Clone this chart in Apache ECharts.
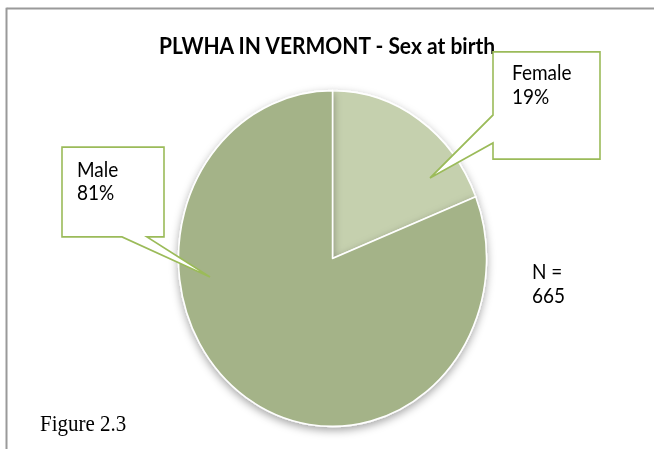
<!DOCTYPE html>
<html>
<head>
<meta charset="utf-8">
<script src="https://cdn.jsdelivr.net/npm/echarts@6/dist/echarts.min.js"></script>
<style>
  html, body { margin: 0; padding: 0; background: #ffffff; overflow: hidden; }
  #wrap { width: 654px; height: 449px; position: relative; overflow: hidden; }
  #chart { width: 654px; height: 412px; position: absolute; left: 0; top: 0;
           transform: scale(1, 1.09); transform-origin: 0 0; }
</style>
</head>
<body>
<div id="wrap"><div id="chart"></div></div>
<script>
// ---- data ----
const chartTitle = 'PLWHA IN VERMONT - Sex at birth';
const categories = ['Female', 'Male'];
const percents = [19, 81];
const sliceColors = ['#c5d0ae', '#a4b388'];
const sampleSize = 665;
const figureCaption = 'Figure 2.3';

// ---- layout (chart space, before vertical stretch) ----
const calloutColor = '#9bbb59';
const labelFont = 'Lato, "Open Sans", sans-serif';

const chart = echarts.init(document.getElementById('chart'), null, { renderer: 'svg' });

const pieData = categories.map((c, i) => ({
  name: c, value: percents[i], itemStyle: { color: sliceColors[i] }
}));

function labelText(i) {
  return categories[i] + '\n' + percents[i] + '%';
}

const option = {
  backgroundColor: 'transparent',
  animation: false,
  title: {
    text: chartTitle,
    left: 'center',
    top: 26,
    textStyle: { fontFamily: labelFont, fontWeight: 'bold', fontSize: 21, color: '#000' }
  },
  series: [{
    type: 'pie',
    center: [332.5, 237.2],
    radius: [0, 154],
    startAngle: 90,
    clockwise: true,
    silent: true,
    label: { show: false },
    labelLine: { show: false },
    itemStyle: {
      borderColor: '#ffffff',
      borderWidth: 1.5,
      shadowBlur: 8,
      shadowColor: 'rgba(0,0,0,0.35)',
      shadowOffsetY: 3
    },
    data: pieData
  }],
  graphic: [
    // frame
    { type: 'line', z: 1, shape: { x1: 6.5, y1: 7.8, x2: 660, y2: 7.8 },
      style: { stroke: '#9a9a9a', lineWidth: 2 } },
    { type: 'line', z: 1, shape: { x1: 6.5, y1: 7, x2: 6.5, y2: 420 },
      style: { stroke: '#9a9a9a', lineWidth: 2 } },
    // Female callout
    { type: 'polygon', z: 100,
      shape: { points: [[493, 47.7], [600, 47.7], [600, 145.9], [493, 145.9], [493, 131.2], [430, 163.3], [493, 105.5]] },
      style: { fill: '#ffffff', stroke: calloutColor, lineWidth: 1.6 } },
    { type: 'text', z: 101, left: 512, top: 55,
      style: { text: labelText(0), font: '19px ' + labelFont, lineHeight: 22, fill: '#000' } },
    // Male callout
    { type: 'polygon', z: 100,
      shape: { points: [[62, 134.9], [164, 134.9], [164, 217.4], [147, 217.4], [210, 254.1], [122, 217.4], [62, 217.4]] },
      style: { fill: '#ffffff', stroke: calloutColor, lineWidth: 1.6 } },
    { type: 'text', z: 101, left: 77, top: 144,
      style: { text: labelText(1), font: '19px ' + labelFont, lineHeight: 21, fill: '#000' } },
    // N
    { type: 'text', z: 101, left: 532, top: 237,
      style: { text: 'N =\n' + sampleSize, font: '19px ' + labelFont, lineHeight: 22, fill: '#000' } },
    // figure caption
    { type: 'text', z: 101, left: 40, top: 378,
      style: { text: figureCaption, font: '21px "Liberation Serif", "Times New Roman", serif', fill: '#000' } }
  ]
};
chart.setOption(option);
</script>
</body>
</html>
